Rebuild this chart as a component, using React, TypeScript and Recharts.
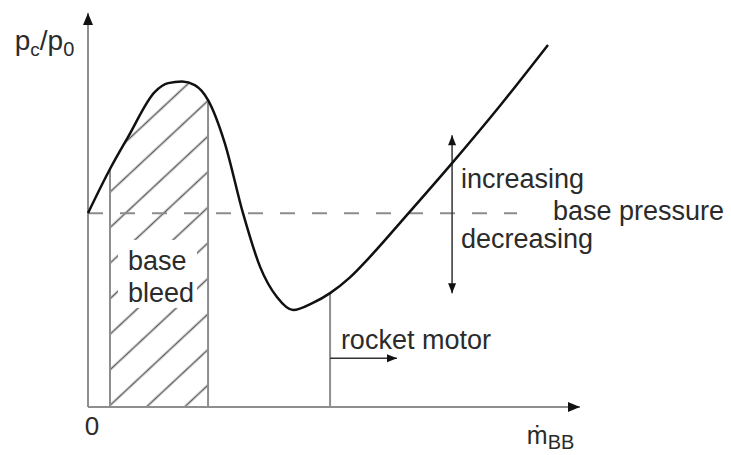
import React from 'react';
import { ComposedChart, Line, Area, XAxis, YAxis, ReferenceLine, ReferenceDot } from 'recharts';

// Curve of p_c/p_0 versus base-bleed mass flow (arbitrary units 0..100)
const CURVE_MDOT = [0, 4.47, 8.13, 13.6, 16.3, 19.1, 21.7, 24.4, 27.8, 31.5, 35.0, 38.4, 41.7, 45.7, 49.2, 53.25, 57.3, 64.8, 74.0, 83.7, 93.5];
const CURVE_RATIO = [49.2, 60.4, 68.5, 80.0, 82.2, 82.6, 81.7, 77.9, 67.0, 49.2, 35.5, 27.9, 24.6, 26.4, 28.9, 32.9, 38.1, 48.7, 61.9, 76.4, 91.9];

const HATCH_FROM = 4.47;
const HATCH_TO = 24.4;
const BASE_LEVEL = 49.2;
const BASE_LINE_END = 87.2;
const ROCKET_MDOT = 49.2;
const ROCKET_ARROW_END = 62.8;
const ROCKET_ARROW_Y = 12.4;
const PRESSURE_ARROW_X = 74.0;
const PRESSURE_ARROW_LOW = 28.9;
const PRESSURE_ARROW_HIGH = 69.0;

const rows = CURVE_MDOT.map((m, i) => ({
  mdot: m,
  ratio: CURVE_RATIO[i],
  hatch: m >= HATCH_FROM - 1e-6 && m <= HATCH_TO + 1e-6 ? CURVE_RATIO[i] : null,
}));

const ratioAt = (m: number) => CURVE_RATIO[CURVE_MDOT.indexOf(m)];

const FONT = '"Liberation Sans", Arial, "DejaVu Sans", sans-serif';
const TXT = '#2b2b2b';

const headPts = (x1: number, y1: number, x2: number, y2: number, len: number, half: number) => {
  const dx = x2 - x1, dy = y2 - y1;
  const L = Math.sqrt(dx * dx + dy * dy) || 1;
  const ux = dx / L, uy = dy / L;
  const bx = x2 - ux * len, by = y2 - uy * len;
  return `${x2},${y2} ${bx - uy * half},${by + ux * half} ${bx + uy * half},${by - ux * half}`;
};

const makeArrow = (color: string, width: number, both: boolean, len: number, half: number) => (p: any) => {
  const { x1, y1, x2, y2 } = p;
  return (
    <g>
      <line x1={x1} y1={y1} x2={x2} y2={y2} stroke={color} strokeWidth={width} />
      <polygon points={headPts(x1, y1, x2, y2, len, half)} fill="#111" />
      {both ? <polygon points={headPts(x2, y2, x1, y1, len, half)} fill="#111" /> : null}
    </g>
  );
};

const textShape = (content: React.ReactNode, size = 27, anchor: 'start' | 'middle' = 'start') => (p: any) => (
  <text x={p.cx} y={p.cy} fontFamily={FONT} fontSize={size} fill={TXT} textAnchor={anchor}>
    {content}
  </text>
);

const bleedShape = (p: any) => (
  <g>
    <rect x={p.cx - 10} y={p.cy - 30} width={79} height={68} fill="#fff" />
    <text x={p.cx} y={p.cy} fontFamily={FONT} fontSize={27} fill={TXT}>base</text>
    <text x={p.cx} y={p.cy + 32} fontFamily={FONT} fontSize={27} fill={TXT}>bleed</text>
  </g>
);

export default function App() {
  return (
    <div style={{ position: 'absolute', left: 0, top: 0, width: 731, height: 455, background: '#fff' }}>
      <ComposedChart width={731} height={455} data={rows} margin={{ top: 13, right: 151, bottom: 48, left: 88 }}>
        <defs>
          <pattern id="hatch" patternUnits="userSpaceOnUse" width={10} height={26} patternTransform="rotate(-43)">
            <line x1={-1} y1={7.5} x2={11} y2={7.5} stroke="#5e5e5e" strokeWidth={1.6} />
          </pattern>
        </defs>
        <XAxis type="number" dataKey="mdot" domain={[0, 100]} hide />
        <YAxis type="number" domain={[0, 100]} hide />
        <Area dataKey="hatch" type="monotone" fill="url(#hatch)" fillOpacity={1} stroke="none" isAnimationActive={false} connectNulls={false} />
        <ReferenceLine segment={[{ x: 0, y: BASE_LEVEL }, { x: BASE_LINE_END, y: BASE_LEVEL }]} stroke="#8c8c8c" strokeWidth={2} strokeDasharray="15 17" ifOverflow="visible" />
        <ReferenceLine segment={[{ x: HATCH_FROM, y: 0 }, { x: HATCH_FROM, y: ratioAt(HATCH_FROM) }]} stroke="#8e8e8e" strokeWidth={2} ifOverflow="visible" />
        <ReferenceLine segment={[{ x: HATCH_TO, y: 0 }, { x: HATCH_TO, y: ratioAt(HATCH_TO) }]} stroke="#8e8e8e" strokeWidth={2} ifOverflow="visible" />
        <ReferenceLine segment={[{ x: ROCKET_MDOT, y: 0 }, { x: ROCKET_MDOT, y: ratioAt(ROCKET_MDOT) }]} stroke="#8e8e8e" strokeWidth={2} ifOverflow="visible" />
        <ReferenceLine segment={[{ x: 0, y: 0 }, { x: 100, y: 0 }]} ifOverflow="visible" shape={makeArrow('#8e8e8e', 2, false, 12, 5)} />
        <ReferenceLine segment={[{ x: 0, y: 0 }, { x: 0, y: 100 }]} ifOverflow="visible" shape={makeArrow('#8e8e8e', 2, false, 12, 5)} />
        <ReferenceLine segment={[{ x: ROCKET_MDOT, y: ROCKET_ARROW_Y }, { x: ROCKET_ARROW_END, y: ROCKET_ARROW_Y }]} ifOverflow="visible" shape={makeArrow('#333', 1.5, false, 10, 4)} />
        <ReferenceLine segment={[{ x: PRESSURE_ARROW_X, y: PRESSURE_ARROW_LOW }, { x: PRESSURE_ARROW_X, y: PRESSURE_ARROW_HIGH }]} ifOverflow="visible" shape={makeArrow('#333', 1.5, true, 10, 4)} />
        <Line dataKey="ratio" type="monotone" stroke="#111" strokeWidth={2.5} dot={false} isAnimationActive={false} />
        <ReferenceDot x={8.13} y={34.8} r={1} ifOverflow="visible" shape={bleedShape} />
        <ReferenceDot x={75.8} y={55.6} r={1} ifOverflow="visible" shape={textShape('increasing')} />
        <ReferenceDot x={94.5} y={47.5} r={1} ifOverflow="visible" shape={textShape('base pressure')} />
        <ReferenceDot x={75.8} y={40.4} r={1} ifOverflow="visible" shape={textShape('decreasing')} />
        <ReferenceDot x={51.4} y={14.7} r={1} ifOverflow="visible" shape={textShape('rocket motor')} />
        <ReferenceDot x={0.81} y={-7.1} r={1} ifOverflow="visible" shape={textShape('0', 26, 'middle')} />
        <ReferenceDot
          x={-14.9}
          y={90.6}
          r={1}
          ifOverflow="visible"
          shape={textShape(
            <>
              <tspan>p</tspan>
              <tspan fontSize={19} dy={6}>c</tspan>
              <tspan dy={-6}>/p</tspan>
              <tspan fontSize={20} dy={6}>0</tspan>
            </>,
            28
          )}
        />
        <ReferenceDot
          x={89.2}
          y={-9.4}
          r={1}
          ifOverflow="visible"
          shape={textShape(
            <>
              <tspan>ṁ</tspan>
              <tspan fontSize={20} dy={5}>BB</tspan>
            </>,
            25
          )}
        />
      </ComposedChart>
    </div>
  );
}
